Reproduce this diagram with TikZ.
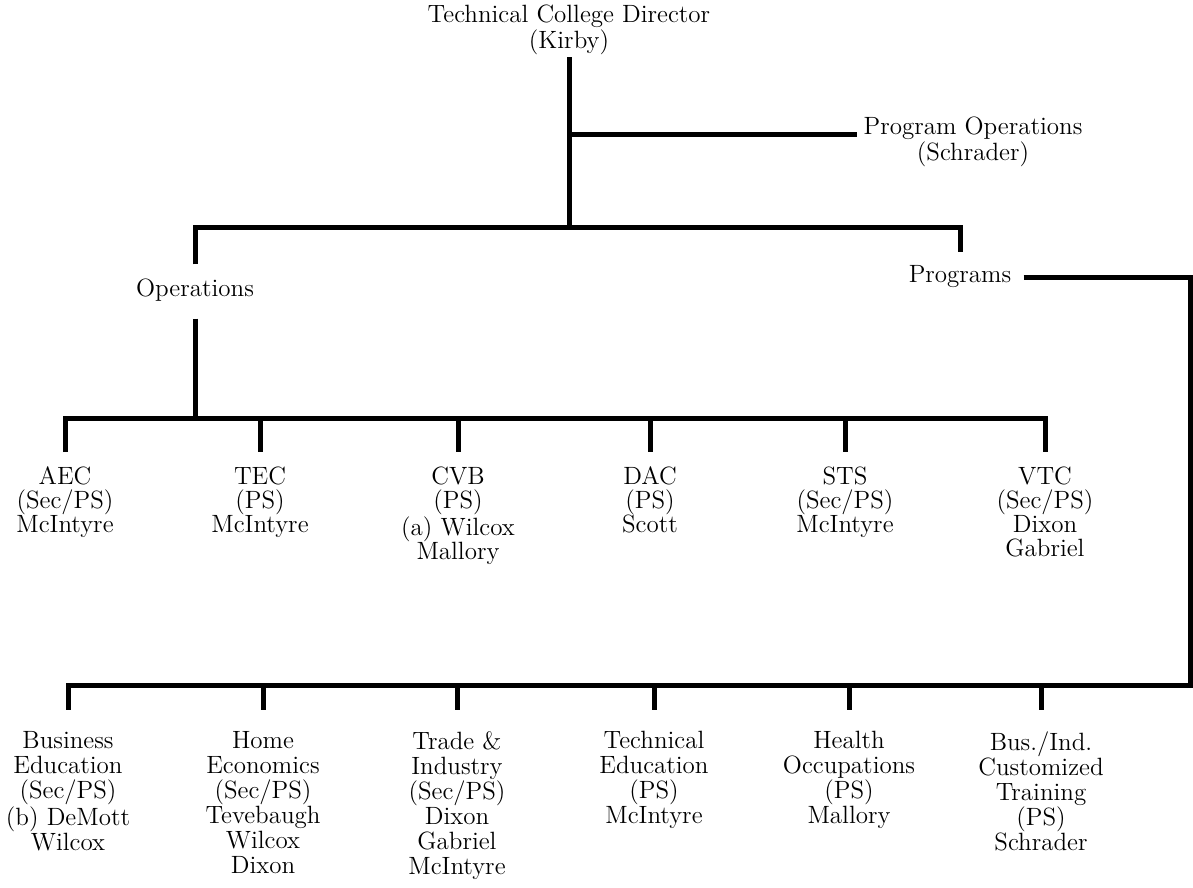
\documentclass[tikz,border=0pt]{standalone}
\usepackage{tikz}
\usetikzlibrary{positioning, calc}

\tikzset{
  lbl/.style={align=center, inner sep=0pt, font=\fontsize{12.5}{12}\selectfont},
  unit/.style={lbl, anchor=north},
  tie/.style={line width=2.5pt}
}

\begin{document}
\begin{tikzpicture}[x=0.5pt, y=-0.5pt]
\useasboundingbox (0,0) rectangle (1193,888);

% top of the chart
\node[lbl, font=\fontsize{12.5}{10.5}\selectfont] (dir) at (569,30) {Technical College Director\\(Kirby)};
\node[lbl, font=\fontsize{12.5}{10}\selectfont] (po) at (973,142) {Program Operations\\(Schrader)};
\node[lbl] (ops) at (195,290) {Operations};
\node[lbl] (prog) at (960,277) {Programs};

\coordinate (mb) at (569,227);
\coordinate (poj) at (569,134);
\coordinate (r1) at (0,418);
\coordinate (r2) at (0,685);
\coordinate (rt) at (1190,0);

\draw[tie, shorten <=1pt] (dir.south) -- (dir.south |- mb);
\draw[tie, shorten >=3pt] (poj) -- (poj -| po.west);
\draw[tie, shorten <=7pt, shorten >=7pt] (ops.north) -- (ops.north |- mb) -- (prog.north |- mb) -- (prog.north);

% operations units
\foreach \x/\name/\lab in {65/aec/{AEC\\(Sec/PS)\\McIntyre}, 260/tec/{TEC\\(PS)\\McIntyre},
    458/cvb/{CVB\\(PS)\\(a) Wilcox\\Mallory}, 650/dac/{DAC\\(PS)\\Scott},
    845/sts/{STS\\(Sec/PS)\\McIntyre}, 1045/vtc/{VTC\\(Sec/PS)\\Dixon\\Gabriel}} {
  \node[unit] (\name) at (\x,466) {\lab};
}
\draw[tie, shorten <=8.5pt] (ops.south) -- (ops.south |- r1);
\draw[tie, shorten <=7pt, shorten >=7pt] (aec.north) -- (aec.north |- r1) -- (vtc.north |- r1) -- (vtc.north);
\foreach \name in {tec, cvb, dac, sts} {
  \draw[tie, shorten >=7pt] (\name.north |- r1) -- (\name.north);
}

% program areas
\foreach \x/\name/\lab in {68/bus/{Business\\Education\\(Sec/PS)\\(b) DeMott\\Wilcox},
    263/home/{Home\\Economics\\(Sec/PS)\\Tevebaugh\\Wilcox\\Dixon},
    457/trade/{Trade \&\\Industry\\(Sec/PS)\\Dixon\\Gabriel\\McIntyre},
    654/tech/{Technical\\Education\\(PS)\\McIntyre}, 849/health/{Health\\Occupations\\(PS)\\Mallory},
    1041/cust/{Bus./Ind.\\Customized\\Training\\(PS)\\Schrader}} {
  \node[unit, font=\fontsize{12.5}{12.5}\selectfont] (\name) at (\x,731) {\lab};
}
\draw[tie, shorten <=6pt, shorten >=10.5pt] (prog.east) -- (prog.east -| rt) -- (rt |- r2) -- (bus.north |- r2) -- (bus.north);
\foreach \name in {home, trade, tech, health, cust} {
  \draw[tie, shorten >=10.5pt] (\name.north |- r2) -- (\name.north);
}
\end{tikzpicture}
\end{document}
